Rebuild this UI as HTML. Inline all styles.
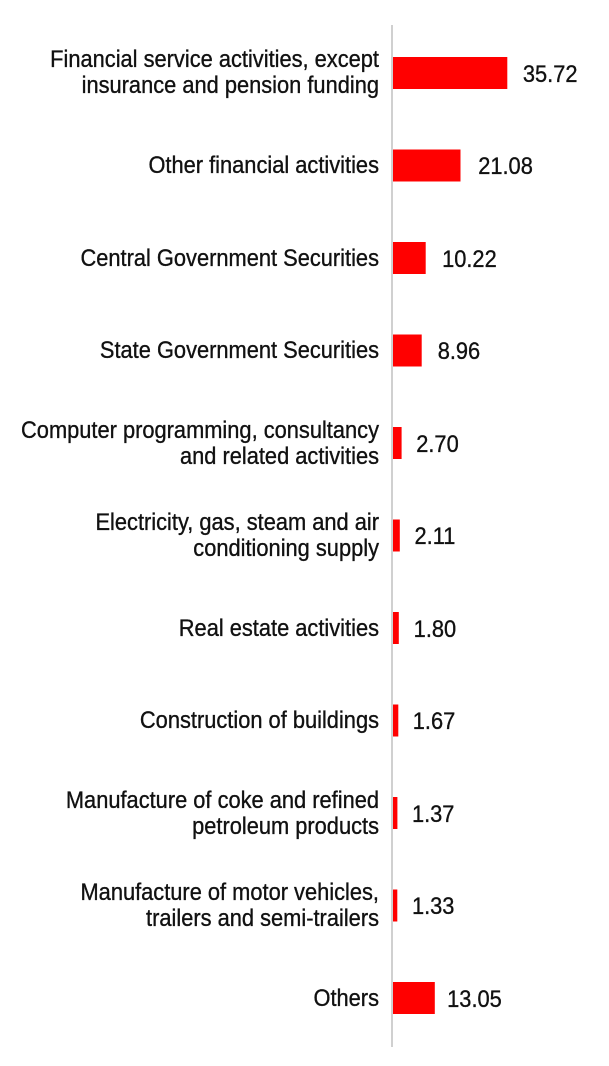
<!DOCTYPE html>
<html><head><style>body{margin:0;background:#fff}svg{display:block}</style></head><body>
<svg width="609" height="1066" xmlns="http://www.w3.org/2000/svg" font-family="'Liberation Sans', sans-serif" font-size="24" fill="#111" stroke="#111" stroke-width="0.35">
<rect x="391" y="25" width="2" height="1022" fill="#d0d0d0" stroke="none"/>
<g fill="#ff0000" stroke="none">
<rect x="393" y="57" width="114.3" height="32"/>
<rect x="393" y="149.5" width="67.5" height="32"/>
<rect x="393" y="242" width="32.7" height="32"/>
<rect x="393" y="334.5" width="28.7" height="32"/>
<rect x="393" y="427" width="8.6" height="32"/>
<rect x="393" y="519.5" width="6.8" height="32"/>
<rect x="393" y="612" width="5.8" height="32"/>
<rect x="393" y="704.5" width="5.3" height="32"/>
<rect x="393" y="797" width="4.4" height="32"/>
<rect x="393" y="889.5" width="4.3" height="32"/>
<rect x="393" y="982" width="41.8" height="32"/>
</g>
<g transform="scale(0.91,1)" text-anchor="start">
<text x="574.6" y="82">35.72</text>
<text x="525.5" y="174">21.08</text>
<text x="485.8" y="267">10.22</text>
<text x="481" y="359">8.96</text>
<text x="457.4" y="452">2.70</text>
<text x="455.5" y="544">2.11</text>
<text x="454.6" y="637">1.80</text>
<text x="453.6" y="729">1.67</text>
<text x="452.7" y="822">1.37</text>
<text x="452.7" y="914">1.33</text>
<text x="491.4" y="1007">13.05</text>
</g>
<g transform="scale(0.91,1)" text-anchor="end">
<text x="416.5" y="67">Financial service activities, except</text>
<text x="416.5" y="93">insurance and pension funding</text>
<text x="416.5" y="173">Other financial activities</text>
<text x="416.5" y="266">Central Government Securities</text>
<text x="416.5" y="358">State Government Securities</text>
<text x="416.5" y="438">Computer programming, consultancy</text>
<text x="416.5" y="464">and related activities</text>
<text x="416.5" y="530">Electricity, gas, steam and air</text>
<text x="416.5" y="556">conditioning supply</text>
<text x="416.5" y="636">Real estate activities</text>
<text x="416.5" y="728">Construction of buildings</text>
<text x="416.5" y="808">Manufacture of coke and refined</text>
<text x="416.5" y="834">petroleum products</text>
<text x="416.5" y="900">Manufacture of motor vehicles,</text>
<text x="416.5" y="926">trailers and semi-trailers</text>
<text x="416.5" y="1006">Others</text>
</g>
</svg>
</body></html>
